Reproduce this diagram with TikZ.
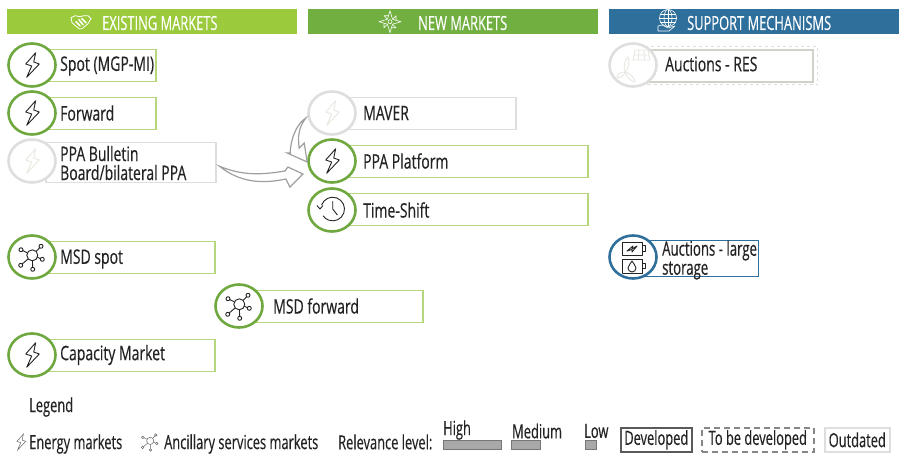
\documentclass[tikz,border=0pt]{standalone}
\usepackage{fontspec}
\setmainfont[FakeStretch=0.70,FakeBold=0.35]{Open Sans}
\newfontfamily\narrowf[FakeStretch=0.66,FakeBold=0.35]{Open Sans}
\usetikzlibrary{calc,arrows.meta,shapes.geometric}
\definecolor{hgA}{HTML}{9BCB3C}
\definecolor{hgB}{HTML}{72AF41}
\definecolor{hbl}{HTML}{2E6F9B}
\definecolor{lgreen}{HTML}{B6D77E}
\definecolor{dgreen}{HTML}{6EA83F}
\definecolor{pale}{HTML}{DEDEDE}
\definecolor{ink}{HTML}{232323}
\definecolor{faint}{HTML}{E8E8E0}
\definecolor{barf}{HTML}{A8A8A8}
\definecolor{bard}{HTML}{767676}
\tikzset{
  hdr/.style={rectangle,minimum height=25pt,minimum width=290pt,inner sep=0pt,anchor=north west,draw=none},
  hdrtxt/.style={anchor=west,text=white,font=\narrowf\fontsize{19.5}{19}\selectfont,inner sep=0pt},
  mbox/.style={rectangle,anchor=north west,draw=lgreen,line width=1.5pt,fill=white,minimum height=32pt,inner sep=0pt},
  gbox/.style={mbox,draw=pale},
  bbox/.style={mbox,draw=hbl,line width=1.3pt},
  mtxt/.style={anchor=west,text=ink,font=\fontsize{20}{19}\selectfont,inner sep=0pt,align=left},
  ring/.style={ellipse,draw=dgreen,line width=2.6pt,fill=white,minimum width=47pt,minimum height=43pt,inner sep=0pt},
  gring/.style={ring,draw=pale},
  bring/.style={ring,draw=hbl},
  icon/.style={draw=ink,line width=0.9pt,line join=round},
  ficon/.style={draw=faint,line width=0.9pt,line join=round},
  wicon/.style={draw=white,line width=0.8pt,line join=round,line cap=round},
  hollow/.style={draw=gray!75,line width=1.2pt,fill=white,line join=miter},
  ltxt/.style={anchor=west,text=ink,font=\narrowf\fontsize{19.5}{18}\selectfont,inner sep=0pt},
  rbar/.style={rectangle,anchor=north west,draw=bard,fill=barf,line width=1.3pt,minimum height=9pt,inner sep=0pt},
  lbox/.style={rectangle,anchor=north west,line width=1.6pt,minimum height=24pt,inner sep=0pt,text=ink,font=\narrowf\fontsize{19.5}{18}\selectfont,fill=white}
}
\newcommand{\bolticon}[2]{\draw[#2,shift={(#1)}] (3.7,-12.3)--(-6.3,-1)--(-0.3,1)--(-5.3,12.3)--(7.3,-1)--(1.7,-3)--cycle;}
\newcommand{\neticon}[2]{\begin{scope}[shift={(#1)},#2]
  \draw (0.3,-1.7) circle (5.5);
  \foreach \a/\b in {-11/-7.3,9/-10.7,10.3/2.3,0.7/12.3,-11.3/8.3}{
    \draw (\a,\b) circle (2);
    \draw ($(0.3,-1.7)!5.5pt!(\a,\b)$)--($(\a,\b)!2pt!(0.3,-1.7)$);}
\end{scope}}
\begin{document}
\begin{tikzpicture}[x=1pt,y=-1pt]
\useasboundingbox (0,0) rectangle (903,453);
% headers
\node[hdr,fill=hgA] (h1) at (7,9) {};
\node[hdr,fill=hgB] (h2) at (308,9) {};
\node[hdr,fill=hbl] (h3) at (609,9) {};
\node[hdrtxt] (h1t) at (102,23) {EXISTING MARKETS};
\node[hdrtxt] (h2t) at (418,23) {NEW MARKETS};
\node[hdrtxt] (h3t) at (687,23) {SUPPORT MECHANISMS};
% handshake
\begin{scope}[shift={(81,21.7)},wicon]
  \draw (-10,-4)--(-6,-6)--(-1,-5)--(3,-6)--(7,-6)--(10,-3);
  \draw (-10,-4)--(-9,1)--(-2,7)--(1,7)--(7,2)--(10,-3);
  \draw[line width=1.6pt] (-5,0)--(-1,4) (-2,-2)--(2,3) (1,-3)--(5,1);
\end{scope}
% star
\begin{scope}[shift={(390,21.7)},wicon,line width=0.6pt]
  \draw (0,-11)--(2.5,-2.5)--(11,0)--(2.5,2.5)--(0,11)--(-2.5,2.5)--(-11,0)--(-2.5,-2.5)--cycle;
  \draw (0,0) circle (2);
  \draw (3,-3)--(6,-6)--(6,-2) (-3,-3)--(-6,-6)--(-2,-6) (3,3)--(6,6)--(2,6) (-3,3)--(-6,6)--(-6,2);
\end{scope}
% globe in hand
\begin{scope}[shift={(668,18)},wicon,line width=0.6pt]
  \draw (0,0) circle (8.5);
  \draw (0,0) ellipse (4 and 8.5);
  \draw (-8.5,0)--(8.5,0) (0,-8.5)--(0,8.5) (-7.5,-4)--(7.5,-4) (-7.5,4)--(7.5,4);
  \draw (-10,8)--(-6,7)--(0,10)--(7,8)--(1,13)--(-5,13)--(-10,13)--cycle;
\end{scope}
% left column
\node[mbox,minimum width=110pt] (spotb) at (45,48.5) {};
\node[ring] (spotc) at (32,65) {};
\bolticon{spotc}{icon}
\node[mtxt] (spott) at (60,66) {Spot (MGP-MI)};
\node[mbox,minimum width=110pt] (fwdb) at (45,96.5) {};
\node[ring] (fwdc) at (32,113) {};
\bolticon{fwdc}{icon}
\node[mtxt] (fwdt) at (60,113) {Forward};
\node[gbox,minimum width=170pt,minimum height=40pt] (ppab) at (45,141.5) {};
\node[gring] (ppac) at (32,161) {};
\bolticon{ppac}{ficon}
\node[mtxt] (ppat) at (60,163) {PPA Bulletin\\Board/bilateral PPA};
\node[mbox,minimum width=169pt] (msdb) at (45,240.5) {};
\node[ring] (msdc) at (32,257) {};
\neticon{msdc}{icon}
\node[mtxt] (msdt) at (60,259) {MSD spot};
\node[mbox,minimum width=169pt] (mfb) at (253,289.5) {};
\node[ring] (mfc) at (239,306) {};
\neticon{mfc}{icon}
\node[mtxt] (mft) at (273,306) {MSD forward};
\node[mbox,minimum width=169pt] (capb) at (45,338.5) {};
\node[ring] (capc) at (32,355) {};
\bolticon{capc}{icon}
\node[mtxt] (capt) at (60,355) {Capacity Market};
% middle column
\node[gbox,minimum width=169pt] (mavb) at (346,96.5) {};
\node[gring] (mavc) at (332,113) {};
\bolticon{mavc}{ficon}
\node[mtxt] (mavt) at (363,113) {MAVER};
\node[mbox,minimum width=241pt] (plab) at (346,144.5) {};
\node[ring] (plac) at (332,161) {};
\bolticon{plac}{icon}
\node[mtxt] (plat) at (363,161) {PPA Platform};
\node[mbox,minimum width=241pt] (tsb) at (346,192.5) {};
\node[ring] (tsc) at (332,210) {};
\begin{scope}[shift={(tsc)},icon]
  \draw (-10.4,-5) arc (200:505:11.8);
  \draw (-15,-4.5)--(-12,-1)--(-9,-4.5);
  \draw (0.7,-9)--(0.7,-1)--(5.4,5);
\end{scope}
\node[mtxt] (tst) at (363,210) {Time-Shift};
% right column
\node[rectangle,anchor=north west,draw=pale,dashed,line width=1pt,minimum width=170pt,minimum height=38pt,inner sep=0pt] (resd) at (647,46) {};
\node[mbox,draw=faint!90!black,line width=1.8pt,minimum width=166pt] (resb) at (646,49) {};
\node[gring] (resc) at (633,65) {};
\begin{scope}[shift={(resc)},ficon]
  \draw (2,-15)--(15,-15)--(17,-5)--(0,-5)--cycle (1,-10)--(16,-10) (6,-15)--(5,-5) (11,-15)--(11.5,-5);
  \draw (-8,7) .. controls (-10,1) and (-8,-5) .. (-5,-8) .. controls (-3,-2) and (-4,3) .. (-8,7);
  \draw (-8,7) .. controls (-10,12) and (-13,13) .. (-16,13) .. controls (-16,9) and (-13,7) .. (-8,7);
  \draw (-8,7) .. controls (-6,12) and (-3,16) .. (2,17) .. controls (2,13) and (-3,8) .. (-8,7);
\end{scope}
\node[mtxt] (rest) at (665,64) {Auctions - RES};
\node[bbox,minimum width=112.5pt,minimum height=36pt] (aucb) at (645,240) {};
\node[bring] (aucc) at (633,257) {};
\begin{scope}[shift={(aucc)},icon]
  \draw (-11,-15) rectangle (9,-2) (9,-11.5) rectangle (12.5,-6);
  \draw (-6,-6)--(0,-11)--(-1,-8)--(4,-11)--(-1,-5)--(-1,-7.5)--cycle;
  \draw (-10.5,2) rectangle (9,16) (9,6) rectangle (12.5,11.5);
  \draw (-1,4) .. controls (-2,7) and (-5,8) .. (-5,11) arc (180:0:4) .. controls (3,8) and (0,7) .. (-1,4) -- cycle;
\end{scope}
\node[mtxt,font=\narrowf\fontsize{20}{17}\selectfont] (auct) at (662,260) {Auctions - large\\storage};
% hollow arrows
\coordinate (a1s) at ($(ppab.east)+(3,4)$);
\coordinate (a1e) at ($(plac.west)+(-4.3,13)$);
\coordinate (a2s) at ($(mavc.west)+(-1.3,5)$);
\coordinate (a2e) at ($(plac.west)+(0,1)$);
\draw[hollow] (a1s) .. controls ($(a1s)+(22,9)$) and ($(a1s)+(40,9)$) .. ($(a1e)+(-18,-3)$) -- ($(a1e)+(-15,-7)$) -- (a1e) -- ($(a1e)+(-13,13)$) -- ($(a1e)+(-17,5)$) .. controls ($(a1s)+(42,18)$) and ($(a1s)+(20,16)$) .. (a1s) -- cycle;
\draw[hollow] (a2s) .. controls ($(a2s)+(-8,5)$) and ($(a2s)+(-15,18)$) .. ($(a2e)+(-17,-9)$) -- ($(a2e)+(-20,-9)$) -- (a2e) -- ($(a2e)+(-3,-19)$) -- ($(a2e)+(-8,-14)$) .. controls ($(a2s)+(-8,20)$) and ($(a2s)+(-8,10)$) .. (a2s) -- cycle;
% legend
\node[ltxt] (lg) at (29,407) {Legend};
\coordinate (lb1) at (21,442);
\begin{scope}[shift={(lb1)},scale=0.65]
  \draw[line width=0.5pt,draw=ink!70] (3.7,-12.3)--(-6.3,-1)--(-0.3,1)--(-5.3,12.3)--(7.3,-1)--(1.7,-3)--cycle;
\end{scope}
\node[ltxt] (lt1) at (29,444) {Energy markets};
\coordinate (lb2) at (150,442);
\begin{scope}[shift={(lb2)},scale=0.65,line width=0.5pt]
  \foreach \a/\b in {-11/-7.3,9/-10.7,10.3/2.3,0.7/12.3,-11.3/8.3}{
    \draw[draw=ink!70] (0.3,-1.7)--(\a,\b);
    \draw[draw=ink!70,fill=white] (\a,\b) circle (2);}
  \draw[fill=white,draw=ink!70] (0.3,-1.7) circle (5.5);
\end{scope}
\node[ltxt] (lt2) at (164,444) {Ancillary services markets};
\node[ltxt] (lt3) at (338,442) {Relevance level:};
\node[ltxt] (lh) at (443,430) {High};
\node[rbar,minimum width=58pt] (bh) at (443,440) {};
\node[ltxt] (lm) at (512,431) {Medium};
\node[rbar,minimum width=29pt] (bm) at (511,440) {};
\node[ltxt] (ll) at (584,431) {Low};
\node[rbar,minimum width=11pt] (bl) at (585,440) {};
\node[lbox,draw=ink!75,minimum width=71pt] (ld) at (620,427) {Developed};
\node[lbox,draw=ink!55,dash pattern=on 6pt off 4pt,minimum width=112pt] (lt) at (701,427) {To be developed};
\node[lbox,draw=pale,minimum width=65pt] (lo) at (824,427) {Outdated};
\end{tikzpicture}
\end{document}
